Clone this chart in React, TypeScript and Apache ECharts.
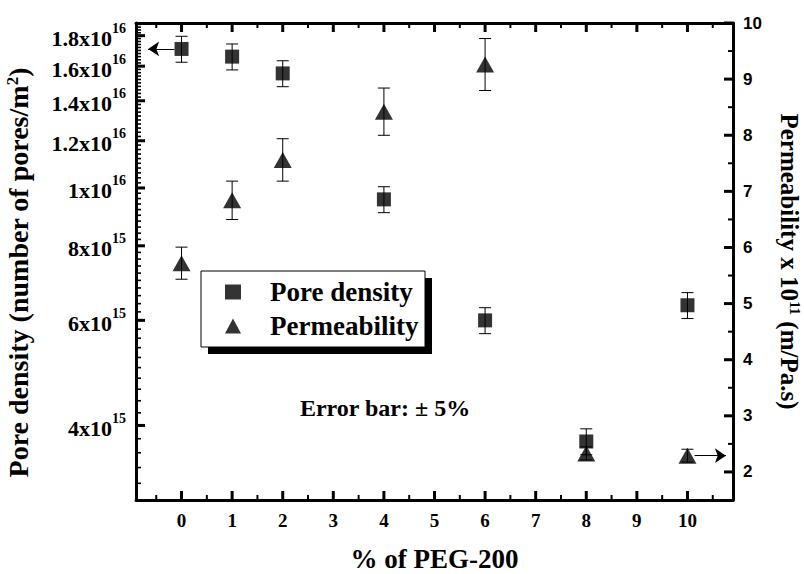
import React, { useEffect, useRef } from 'react';
import * as echarts from 'echarts';

// ---- data ----
const pegPercent = [0, 1, 2, 4, 6, 8, 10];
const poreDensity = [1.71e16, 1.66e16, 1.556e16, 9.57e15, 6.0e15, 3.76e15, 6.36e15];
const permeability = [5.72, 6.84, 7.56, 8.42, 9.26, 2.33, 2.29];
const ERROR_FRACTION = 0.05;

const xTickValues = [0, 1, 2, 3, 4, 5, 6, 7, 8, 9, 10];
const xMinorTickValues = [-0.5, 0.5, 1.5, 2.5, 3.5, 4.5, 5.5, 6.5, 7.5, 8.5, 9.5, 10.5];
const leftTickValues = [4e15, 6e15, 8e15, 1e16, 1.2e16, 1.4e16, 1.6e16, 1.8e16];
const rightTickValues = [2, 3, 4, 5, 6, 7, 8, 9, 10];
const rightMinorTickValues = [1.5, 2.5, 3.5, 4.5, 5.5, 6.5, 7.5, 8.5, 9.5];

const X_MIN = -0.9;
const X_MAX = 10.9;
const RIGHT_MIN = 1.5;
const RIGHT_MAX = 10;
const LEFT_MIN = 3e15;
const LEFT_MAX = 1.89e16;
const leftMinorTickValues: number[] = [];
for (let k = 16; k <= 94; k++) leftMinorTickValues.push(k * 2e14);

const SERIF = '"Liberation Serif", "Times New Roman", serif';
const SANS = '"Liberation Sans", Arial, sans-serif';

function leftLabel(v: number): string {
  const e = Math.floor(Math.log10(v) + 1e-9);
  const m = Math.round((v / Math.pow(10, e)) * 10) / 10;
  return `{a|${m}x10}{s|${e}}`;
}

export default function App() {
  const ref = useRef<HTMLDivElement>(null);
  useEffect(() => {
    if (!ref.current) return;
    const chart = echarts.init(ref.current, undefined, { renderer: 'svg' });

    const errData = (vals: number[]) =>
      pegPercent.map((x, i) => [x, vals[i] * (1 - ERROR_FRACTION), vals[i] * (1 + ERROR_FRACTION)]);

    const renderErr = (params: any, api: any) => {
      const x = api.value(0);
      const lo = api.value(1);
      const hi = api.value(2);
      const t = api.coord([x, hi]);
      const b = api.coord([x, lo]);
      const cap = 6;
      const style = { stroke: '#000', lineWidth: 1 };
      return {
        type: 'group',
        children: [
          { type: 'line', shape: { x1: t[0], y1: t[1], x2: b[0], y2: b[1] }, style },
          { type: 'line', shape: { x1: t[0] - cap, y1: t[1], x2: t[0] + cap, y2: t[1] }, style },
          { type: 'line', shape: { x1: b[0] - cap, y1: b[1], x2: b[0] + cap, y2: b[1] }, style },
        ],
      };
    };

    // Inward tick marks drawn through the axes' scales.
    const tickRender = (dx: number, dy: number, len: number, width: number, both: boolean) =>
      (params: any, api: any) => {
        const p = api.coord([api.value(0), api.value(1)]);
        const children: any[] = [
          { type: 'line', shape: { x1: p[0], y1: p[1], x2: p[0] + dx * len, y2: p[1] + dy * len }, style: { stroke: '#000', lineWidth: width } },
        ];
        if (both) {
          const q = api.coord([api.value(0), RIGHT_MAX]);
          children.push({ type: 'line', shape: { x1: q[0], y1: q[1], x2: q[0] + dx * len, y2: q[1] - dy * len }, style: { stroke: '#000', lineWidth: width } });
        }
        return { type: 'group', children };
      };
    const tickSeries = (name: string, yAxisIndex: number, data: number[][], render: any) => ({
      name, type: 'custom', xAxisIndex: 0, yAxisIndex, z: 2, data, renderItem: render,
    });

    const axisLine = { show: true, onZero: false, lineStyle: { color: '#000', width: 3 } };

    const option: any = {
      animation: false,
      backgroundColor: '#fff',
      grid: { left: 136, right: 71, top: 23, bottom: 74, containLabel: false, outerBoundsMode: 'none' },
      xAxis: [
        {
          type: 'value', position: 'bottom', min: X_MIN, max: X_MAX,
          axisLine, axisTick: { show: false }, splitLine: { show: false },
          axisLabel: {
            customValues: xTickValues, margin: 11, color: '#000',
            fontFamily: SERIF, fontWeight: 'bold', fontSize: 19,
          },
          name: '% of PEG-200', nameLocation: 'middle', nameGap: 45, nameMoveOverlap: false,
          nameTextStyle: { fontFamily: SERIF, fontWeight: 'bold', fontSize: 27, color: '#000' },
        },
        {
          type: 'value', position: 'top', min: X_MIN, max: X_MAX,
          axisLine, axisTick: { show: false }, axisLabel: { show: false }, splitLine: { show: false },
        },
      ],
      yAxis: [
        {
          type: 'log', logBase: 10, position: 'left', min: LEFT_MIN, max: LEFT_MAX,
          axisLine, axisTick: { show: false }, splitLine: { show: false },
          axisLabel: {
            customValues: leftTickValues, margin: 10, color: '#000',
            formatter: (v: number) => leftLabel(v),
            rich: {
              a: { fontFamily: SERIF, fontWeight: 'bold', fontSize: 22, color: '#000', padding: [6, 0, 0, 0] },
              s: { fontFamily: SERIF, fontWeight: 'bold', fontSize: 14, color: '#000', verticalAlign: 'top' },
            },
          },
          name: 'Pore density (number of pores/m{s|2})', nameLocation: 'middle', nameGap: 104,
          nameMoveOverlap: false,
          nameTextStyle: {
            fontFamily: SERIF, fontWeight: 'bold', fontSize: 28, color: '#000',
            padding: [0, 22, 0, 0],
            rich: {
              s: { fontFamily: SERIF, fontWeight: 'bold', fontSize: 17, color: '#000', verticalAlign: 'top' },
            },
          },
        },
        {
          type: 'value', position: 'right', min: RIGHT_MIN, max: RIGHT_MAX,
          axisLine, axisTick: { show: false }, splitLine: { show: false },
          axisLabel: {
            customValues: rightTickValues, margin: 10, color: '#000',
            fontFamily: SANS, fontWeight: 'bold', fontSize: 17,
          },
          name: 'Permeability x 10{s|11} (m/Pa.s)', nameLocation: 'middle', nameGap: 44, nameRotate: -90,
          nameMoveOverlap: false,
          nameTextStyle: {
            fontFamily: SERIF, fontWeight: 'bold', fontSize: 25, color: '#000',
            rich: {
              s: { fontFamily: SERIF, fontWeight: 'bold', fontSize: 15, color: '#000', verticalAlign: 'top' },
            },
          },
        },
      ],
      legend: {
        data: ['Pore density', 'Permeability'],
        orient: 'vertical', left: 225, top: 277, padding: 0,
        itemWidth: 16, itemHeight: 15, itemGap: 4,
        selectedMode: false, z: 10,
        textStyle: {
          fontFamily: SERIF, fontWeight: 'bold', fontSize: 27, color: '#000', lineHeight: 30,
          padding: [0, 0, 0, 24],
        },
      },
      graphic: [
        { type: 'rect', z: 1, shape: { x: 208, y: 278, width: 224, height: 76 }, style: { fill: '#000' } },
        {
          type: 'rect', z: 2, shape: { x: 201, y: 271, width: 224, height: 76 },
          style: { fill: '#fff', stroke: '#000', lineWidth: 1 },
        },
        {
          type: 'text', z: 3, x: 385, y: 408,
          style: {
            text: 'Error bar: ± 5%', fill: '#000', align: 'center', verticalAlign: 'middle',
            font: `bold 24px ${SERIF}`,
          },
        },
      ],
      series: [
        {
          name: 'Pore density err', type: 'custom', xAxisIndex: 0, yAxisIndex: 0, z: 2,
          renderItem: renderErr, data: errData(poreDensity),
        },
        {
          name: 'Permeability err', type: 'custom', xAxisIndex: 0, yAxisIndex: 1, z: 2,
          renderItem: renderErr, data: errData(permeability),
        },
        {
          name: 'Pore density', type: 'scatter', xAxisIndex: 0, yAxisIndex: 0, z: 5,
          symbol: 'rect', symbolSize: 14, itemStyle: { color: '#000' },
          data: pegPercent.map((x, i) => [x, poreDensity[i]]),
          markLine: {
            silent: true, symbol: ['none', 'arrow'], symbolSize: 11,
            label: { show: false }, lineStyle: { color: '#000', width: 1, type: 'solid' },
            data: [[{ coord: [-0.14, poreDensity[0]] }, { coord: [-0.66, poreDensity[0]] }]],
          },
        },
        {
          name: 'Permeability', type: 'scatter', xAxisIndex: 0, yAxisIndex: 1, z: 5,
          symbol: 'triangle', symbolSize: [18, 16], itemStyle: { color: '#000' },
          data: pegPercent.map((x, i) => [x, permeability[i]]),
          markLine: {
            silent: true, symbol: ['none', 'arrow'], symbolSize: 11,
            label: { show: false }, lineStyle: { color: '#000', width: 1, type: 'solid' },
            data: [[{ coord: [10.14, permeability[6]] }, { coord: [10.76, permeability[6]] }]],
          },
        },
        tickSeries('x major ticks', 1, xTickValues.map((v) => [v, RIGHT_MIN]), tickRender(0, -1, 9, 3, true)),
        tickSeries('x minor ticks', 1, xMinorTickValues.map((v) => [v, RIGHT_MIN]), tickRender(0, -1, 5, 2, true)),
        tickSeries('left major ticks', 0, leftTickValues.map((v) => [X_MIN, v]), tickRender(1, 0, 9, 3, false)),
        tickSeries(
          'left minor ticks', 0,
          leftMinorTickValues.filter((v) => leftTickValues.indexOf(v) < 0).map((v) => [X_MIN, v]),
          tickRender(1, 0, 5, 1.6, false),
        ),
        tickSeries('right major ticks', 1, rightTickValues.map((v) => [X_MAX, v]), tickRender(-1, 0, 9, 3, false)),
        tickSeries('right minor ticks', 1, rightMinorTickValues.map((v) => [X_MAX, v]), tickRender(-1, 0, 5, 2, false)),
      ],
    };
    chart.setOption(option);
    return () => chart.dispose();
  }, []);
  return <div ref={ref} style={{ position: 'absolute', left: 0, top: 0, width: 804, height: 574 }} />;
}
